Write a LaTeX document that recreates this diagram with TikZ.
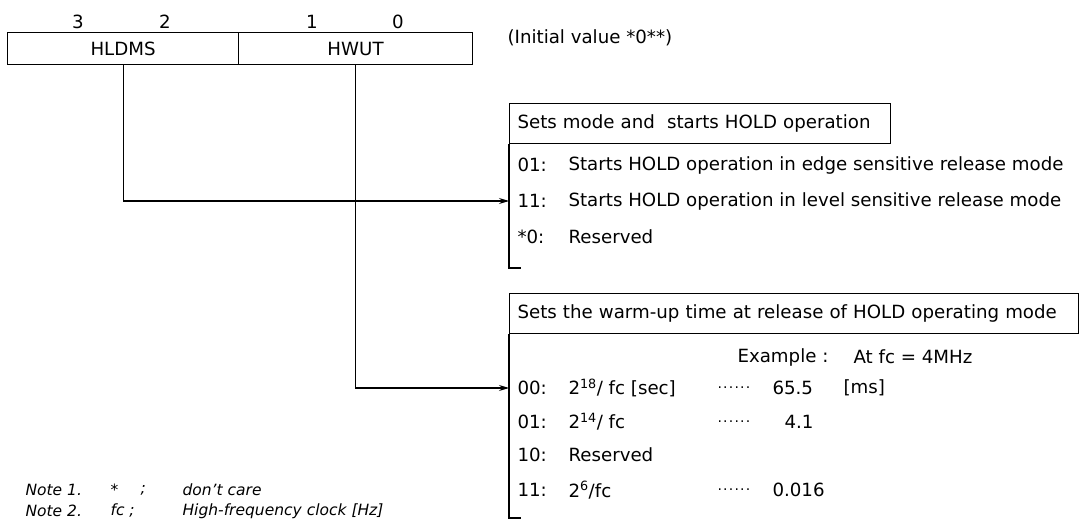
\documentclass[tikz,border=0pt]{standalone}
\usepackage{fontspec}
\setmainfont{DejaVu Sans}
\usetikzlibrary{arrows.meta}
\newcommand{\dotrow}{{\fontsize{14}{14}\selectfont .\kern1.2pt.\kern1.2pt.\kern1.2pt.\kern1.2pt.\kern1.2pt.}}
\begin{document}
\begin{tikzpicture}[x=1pt,y=-1pt,
  font=\fontsize{18.2}{21}\selectfont,
  line width=1.1pt,
  txt/.style={anchor=west, inner sep=0pt},
  rowlbl/.style={anchor=west, inner xsep=8pt, inner ysep=0pt},
  reg/.style={draw, anchor=north west, minimum height=32pt, inner sep=0pt},
  titlebox/.style={draw, anchor=north west, minimum height=40pt, inner xsep=8pt, inner ysep=0pt, align=left},
  arr/.style={-{Stealth[length=10pt,width=6pt]}},
  note/.style={anchor=west, inner sep=0pt, font=\fontsize{15.5}{17}\selectfont\itshape}]
\useasboundingbox (0,0) rectangle (1080,527);

% register
\node[reg, minimum width=231pt] (hldms) at (7,32) {HLDMS};
\node[reg, minimum width=234pt] (hwut) at (238,32) {HWUT};
\node[inner sep=0pt] (b3) at (78,22) {3};
\node[inner sep=0pt] (b2) at (165,22) {2};
\node[inner sep=0pt] (b1) at (312,22) {1};
\node[inner sep=0pt] (b0) at (398,22) {0};
\node[txt] (init) at (507,38) {(Initial value *0**)};

% box 1
\node[titlebox, text width=365pt] (t1) at (509,103) {Sets mode and \ starts HOLD operation};
\node[rowlbl] (r01) at (509,165) {01:};
\node[rowlbl] (r11) at (509,201) {11:};
\node[rowlbl] (r0x) at (509,237) {*0:};
\node[txt] (d01) at (568,165) {Starts HOLD operation in edge sensitive release mode};
\node[txt] (d11) at (568,201) {Starts HOLD operation in level sensitive release mode};
\node[txt] (d0x) at (568,237) {Reserved};
\coordinate (c1) at (509,268);
\coordinate (f1) at (521,268);
\draw (t1.south west) -- (c1) -- (f1);

% box 2
\node[titlebox, text width=553pt] (t2) at (509,293) {Sets the warm-up time at release of HOLD operating mode};
\node[txt] (ex) at (737,357) {Example :};
\node[txt] (exv) at (853,357) {At fc = 4MHz};
\node[rowlbl] (s00) at (509,388) {00:};
\node[rowlbl] (s01) at (509,422) {01:};
\node[rowlbl] (s10) at (509,455) {10:};
\node[rowlbl] (s11) at (509,490) {11:};
\node[txt] (e00) at (568,388) {2\textsuperscript{18}/ fc [sec]};
\node[txt] (e01) at (568,422) {2\textsuperscript{14}/ fc};
\node[txt] (e10) at (568,455) {Reserved};
\node[txt] (e11) at (568,490) {2\textsuperscript{6}/fc};
\node[txt] (g00) at (717,388) {\dotrow};
\node[txt] (g01) at (717,422) {\dotrow};
\node[txt] (g11) at (717,490) {\dotrow};
\node[txt] (v00) at (772,388) {65.5};
\node[txt] (u00) at (843,388) {[ms]};
\node[txt] (v01) at (784,422) {4.1};
\node[txt] (v11) at (772,490) {0.016};
\coordinate (c2) at (509,518);
\coordinate (f2) at (521,518);
\draw (t2.south west) -- (c2) -- (f2);

% connectors
\draw[arr] (hldms.south) |- (r11.west);
\draw[arr] (hwut.south) |- (s00.west);

% notes
\node[note] (n1) at (25,490) {Note 1.};
\node[note] (n1a) at (110,490) {*};
\node[note] (n1b) at (140,490) {;};
\node[note] (n1c) at (182,490) {don't care};
\node[note] (n2) at (25,511) {Note 2.};
\node[note] (n2a) at (110,511) {fc ;};
\node[note] (n2c) at (182,511) {High-frequency clock [Hz]};
\end{tikzpicture}
\end{document}
